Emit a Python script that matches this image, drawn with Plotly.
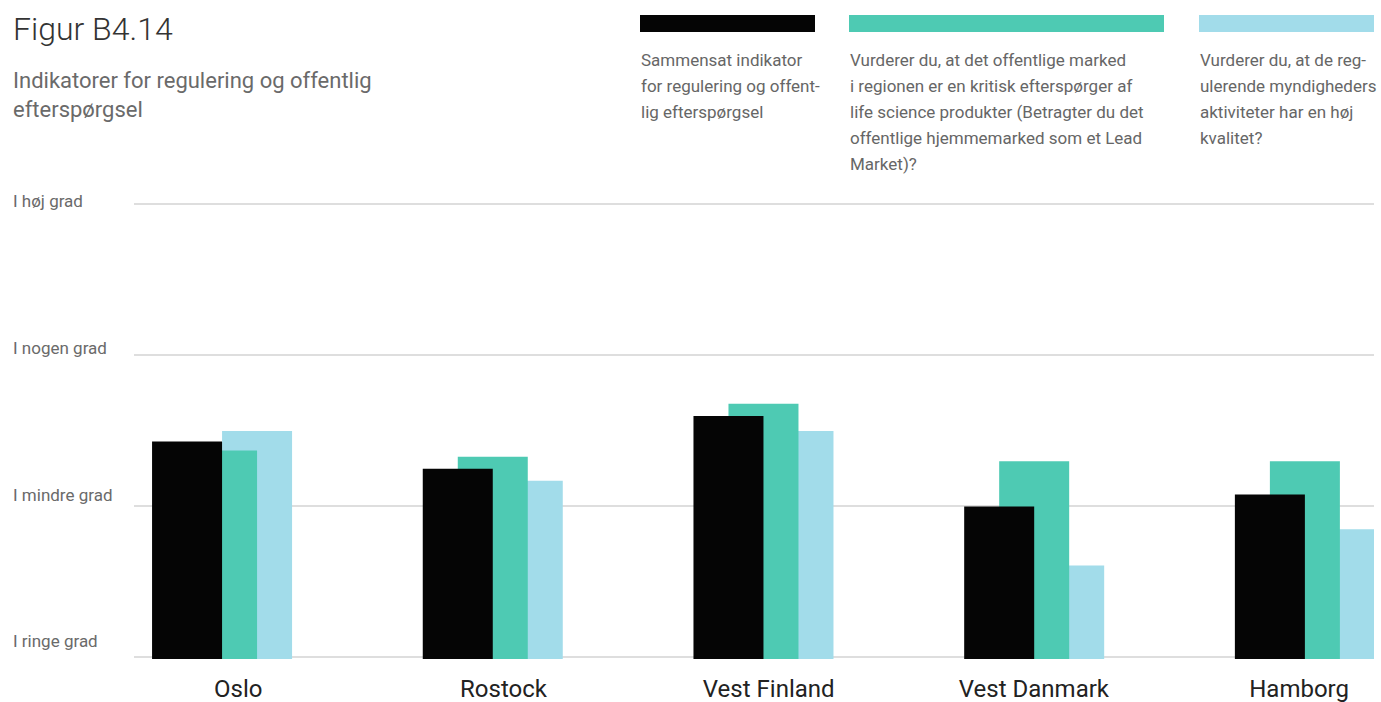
import plotly.graph_objects as go

# ---- data -------------------------------------------------------------
regions = ["Oslo", "Rostock", "Vest Finland", "Vest Danmark", "Hamborg"]

samlet = [2.43, 2.25, 2.60, 2.00, 2.08]          # Sammensat indikator
offentligt_marked = [2.37, 2.33, 2.68, 2.30, 2.30]  # offentligt marked som kritisk efterspørger
myndigheder = [2.50, 2.17, 2.50, 1.61, 1.85]      # regulerende myndigheders kvalitet

scale_values = [1, 2, 3, 4]
scale_labels = ["I ringe grad", "I mindre grad", "I nogen grad", "I høj grad"]

title_text = "Figur B4.14"
subtitle_lines = ["Indikatorer for regulering og offentlig", "efterspørgsel"]

legend_lines = [
    ["Sammensat indikator", "for regulering og offent-", "lig efterspørgsel"],
    ["Vurderer du, at det offentlige marked", "i regionen er en kritisk efterspørger af",
     "life science produkter (Betragter du det", "offentlige hjemmemarked som et Lead",
     "Market)?"],
    ["Vurderer du, at de reg-", "ulerende myndigheders", "aktiviteter har en høj",
     "kvalitet?"],
]

# ---- style ------------------------------------------------------------
W, H = 1381, 702
M_T, M_B = 190, 43
PAPER_H = H - M_T - M_B          # 469 px
BOTTOM = H - M_B                 # pixel row of paper y = 0
BLACK, TEAL, LIGHT = "#050505", "#4ECAB3", "#A2DCEA"
FONT = "Roboto"

bar_w = 0.2586
Y_PX_PER_UNIT = 151.0            # spacing of the scale gridlines
LBL_PX_PER_UNIT = 146.7          # spacing of the scale labels


def py(p):
    """pixel row -> paper y"""
    return (BOTTOM - p) / PAPER_H


def px(p):
    return p / W


fig = go.Figure()

# drawn back to front: light blue, teal, black
series = [
    (myndigheder, LIGHT, 0.0),
    (offentligt_marked, TEAL, -bar_w / 2),
    (samlet, BLACK, -bar_w),
]
for vals, col, off in series:
    fig.add_trace(go.Bar(
        x=regions, y=vals, width=bar_w, offset=off,
        marker=dict(color=col, line=dict(width=0)),
        showlegend=False, hoverinfo="skip",
    ))

# transparent carriers so the label axes get drawn
fig.add_trace(go.Scatter(x=[0], y=[1], xaxis="x2", yaxis="y", mode="markers",
                         marker=dict(opacity=0), showlegend=False, hoverinfo="skip"))
fig.add_trace(go.Scatter(x=[regions[0]], y=[1], xaxis="x", yaxis="y2", mode="markers",
                         marker=dict(opacity=0), showlegend=False, hoverinfo="skip"))

fig.update_layout(
    width=W, height=H,
    margin=dict(l=0, r=0, t=M_T, b=M_B, autoexpand=False),
    paper_bgcolor="white", plot_bgcolor="white",
    barmode="overlay",
    font=dict(family=FONT, color="#666666"),
    xaxis=dict(
        type="category", domain=[134 / W, 1374 / W],
        range=[-0.3253, 4.2553], showticklabels=False, ticks="",
        showgrid=False, zeroline=False, showline=False, fixedrange=True,
    ),
    xaxis2=dict(
        overlaying="x", anchor="y", side="bottom", type="linear",
        range=[-0.3933, 4.2824], tickmode="array",
        tickvals=list(range(len(regions))), ticktext=regions,
        ticks="", showgrid=False, zeroline=False, showline=False,
        tickfont=dict(family=FONT, size=24, color="#222222"),
        ticklabelstandoff=13,
    ),
    yaxis=dict(
        range=[0.99, 0.99 + PAPER_H / Y_PX_PER_UNIT], tickmode="array",
        tickvals=scale_values, showticklabels=False, ticks="", showgrid=True,
        gridcolor="#dedede", gridwidth=2, zeroline=False, showline=False,
    ),
    yaxis2=dict(
        overlaying="y", anchor="free", position=0, side="left",
        range=[0.8807, 0.8807 + PAPER_H / LBL_PX_PER_UNIT], tickmode="array",
        tickvals=scale_values, ticktext=scale_labels, ticks="",
        showgrid=False, zeroline=False, showline=False,
        ticklabelposition="inside", ticklabeloverflow="allow",
        ticklabelstandoff=9,
        tickfont=dict(family=FONT, size=17, color="#6a6a6a"),
    ),
)

annotations = []


def text_line(txt, x_left, y_center, size, color, weight=400):
    annotations.append(dict(
        text=txt, xref="paper", yref="paper", x=px(x_left), y=py(y_center),
        xanchor="left", yanchor="middle", showarrow=False,
        font=dict(family=FONT, size=size, color=color, weight=weight),
    ))


text_line(title_text, 11, 29, 32, "#333333", 300)
for i, ln in enumerate(subtitle_lines):
    text_line(ln, 11, 80 + 30 * i, 22, "#6a6a6a")

legend_x = [640, 849, 1199]
legend_w = [175, 315, 175]
legend_cols = [BLACK, TEAL, LIGHT]
shapes = []
for lx, lw, col, lines in zip(legend_x, legend_w, legend_cols, legend_lines):
    shapes.append(dict(
        type="rect", xref="paper", yref="paper",
        x0=px(lx), x1=px(lx + lw), y0=py(32), y1=py(15),
        fillcolor=col, line=dict(width=0), layer="above",
    ))
    for i, ln in enumerate(lines):
        text_line(ln, lx - 1, 60 + 26 * i, 17, "#666666")

fig.update_layout(annotations=annotations, shapes=shapes)

fig.write_html("out.html")
